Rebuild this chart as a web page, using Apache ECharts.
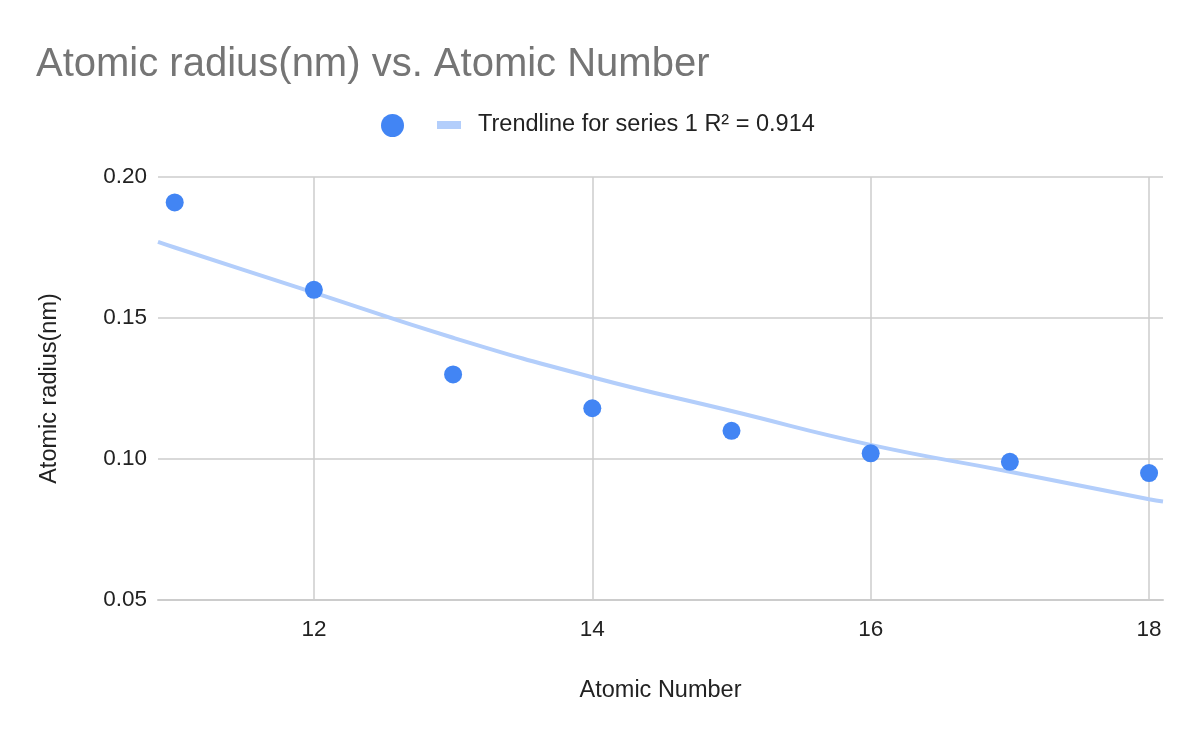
<!DOCTYPE html>
<html>
<head>
<meta charset="utf-8">
<script src="https://cdn.jsdelivr.net/npm/echarts@6/dist/echarts.min.js"></script>
<style>
html,body{margin:0;padding:0;background:#fff;}
#chart{width:1200px;height:742px;}
</style>
</head>
<body>
<div id="chart"></div>
<script>
// Data
const atomicNumbers = [11, 12, 13, 14, 15, 16, 17, 18];
const atomicRadius = [0.191, 0.160, 0.130, 0.118, 0.110, 0.102, 0.099, 0.095];
// Trendline
const trendX = [10.88, 11, 12, 13, 14, 15, 16, 17, 18, 18.1];
const trendY = [0.177, 0.175, 0.159, 0.143, 0.129, 0.117, 0.105, 0.0955, 0.0857, 0.0849];
const yTicks = [0.05, 0.10, 0.15, 0.20];
const trendName = 'Trendline for series 1 R\u00B2 = 0.914';
const FONT = 'Arial, "Liberation Sans", sans-serif';

const chart = echarts.init(document.getElementById('chart'), null, {renderer: 'canvas'});
chart.setOption({
  backgroundColor: '#ffffff',
  animation: false,
  title: {
    text: 'Atomic radius(nm) vs. Atomic Number',
    left: 31, top: 40,
    textStyle: {color: '#757575', fontSize: 40, fontWeight: 'normal', fontFamily: FONT}
  },
  legend: [{
    left: 381, top: 114, padding: 0,
    itemWidth: 23, itemHeight: 23,
    data: [{name: ' ', icon: 'circle'}],
    formatter: function () { return ''; },
    textStyle: {fontSize: 22, fontFamily: FONT}
  }, {
    left: 437, top: 113, padding: 0,
    itemWidth: 24, itemHeight: 8,
    data: [{name: trendName, icon: 'rect'}],
    textStyle: {color: '#222222', fontSize: 23.5, fontFamily: FONT, padding: [0, 0, 0, 12]}
  }],
  grid: {left: 158, right: 37, top: 177, bottom: 142, containLabel: false},
  xAxis: {
    type: 'value',
    min: 10.88, max: 18.1,
    splitNumber: 4,
    name: 'Atomic Number',
    nameLocation: 'middle', nameGap: 79,
    nameTextStyle: {color: '#222222', fontSize: 23.5, fontFamily: FONT},
    axisLine: {show: true, lineStyle: {color: '#cccccc', width: 2}},
    axisTick: {show: false},
    axisLabel: {showMinLabel: false, showMaxLabel: false, color: '#222222', fontSize: 22.5, fontFamily: FONT, margin: 18},
    splitLine: {show: true, showMinLine: false, showMaxLine: false, lineStyle: {color: '#cccccc', width: 1.5}}
  },
  yAxis: {
    type: 'value',
    min: yTicks[0], max: yTicks[yTicks.length - 1], interval: 0.05,
    name: 'Atomic radius(nm)',
    nameLocation: 'middle', nameGap: 96,
    nameTextStyle: {color: '#222222', fontSize: 23.5, fontFamily: FONT},
    axisLine: {show: false},
    axisTick: {show: false},
    axisLabel: {color: '#222222', fontSize: 22.5, fontFamily: FONT, margin: 11,
      formatter: function (v) { return v.toFixed(2); }},
    splitLine: {show: true, lineStyle: {color: '#cccccc', width: 1.5}}
  },
  series: [{
    name: trendName,
    type: 'line',
    data: trendX.map((x, i) => [x, trendY[i]]),
    smooth: true,
    showSymbol: false,
    symbol: 'none',
    lineStyle: {color: '#b3cefb', width: 4},
    itemStyle: {color: '#b3cefb'},
    z: 1
  }, {
    name: ' ',
    type: 'scatter',
    data: atomicNumbers.map((x, i) => [x, atomicRadius[i]]),
    symbolSize: 18,
    itemStyle: {color: '#4285f4', opacity: 1},
    z: 3
  }]
});
</script>
</body>
</html>
